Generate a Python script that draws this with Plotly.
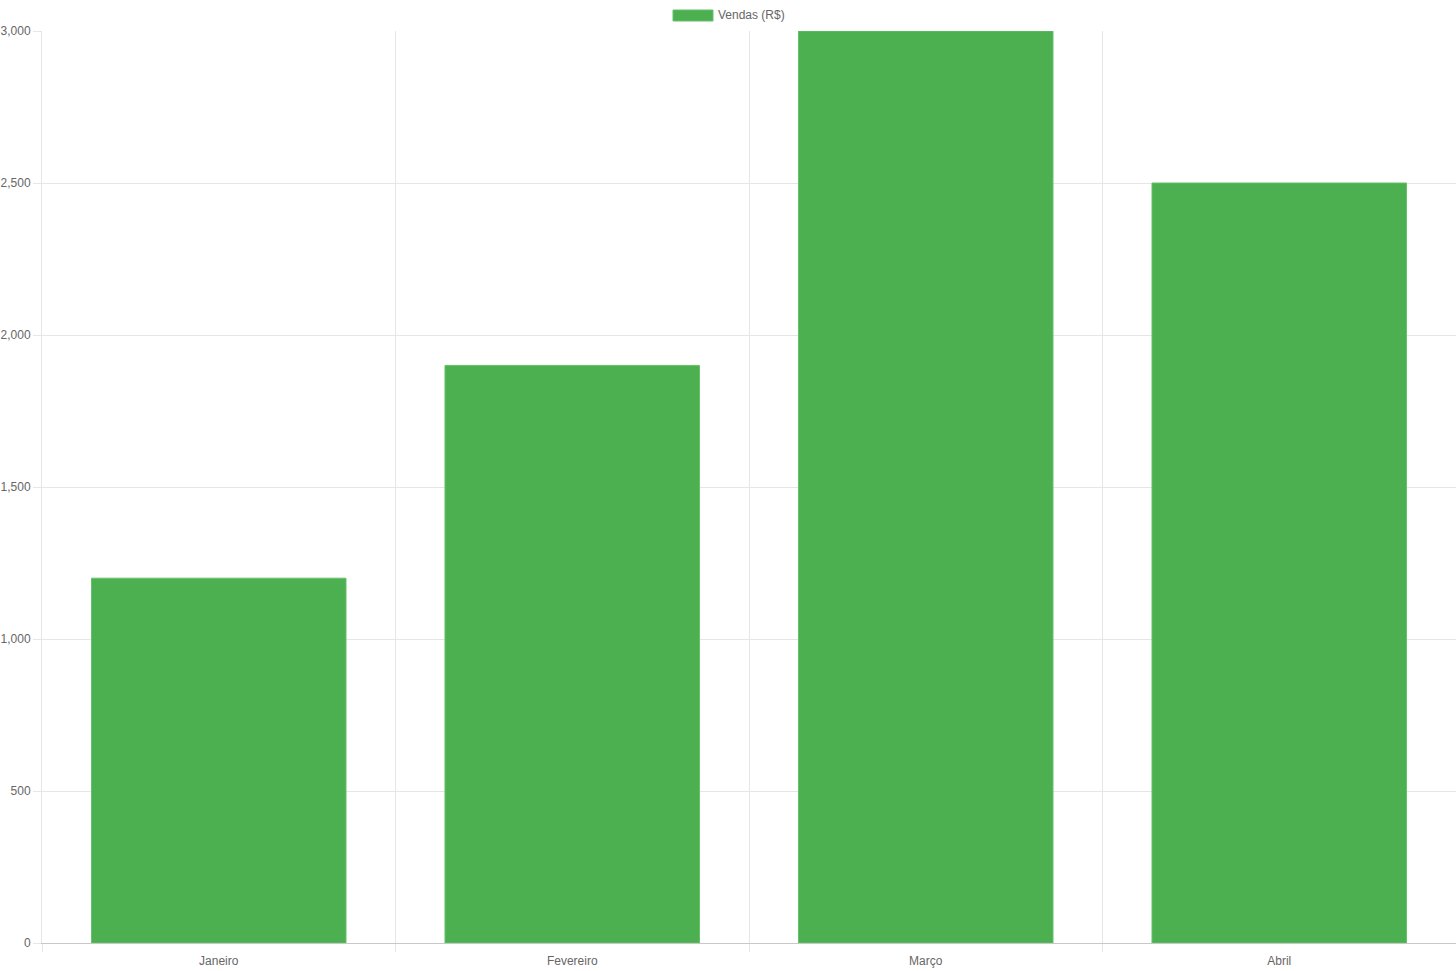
import plotly.graph_objects as go

categories = ["Janeiro", "Fevereiro", "Março", "Abril"]
vendas = [1200, 1900, 3000, 2500]
series_name = "Vendas (R$)"
y_ticks = [0, 500, 1000, 1500, 2000, 2500, 3000]
y_tick_labels = ["0", "500", "1,000", "1,500", "2,000", "2,500", "3,000"]

GREEN = "#4caf50"
GRID = "#e6e6e6"
TEXT = "#666666"
FONT = "Liberation Sans, Arial, sans-serif"

fig = go.Figure()
fig.add_trace(go.Bar(
    x=categories, y=vendas, name=series_name,
    marker=dict(color=GREEN, line=dict(color="#66c16a", width=1)),
    showlegend=False,
))

fig.update_layout(
    width=1456, height=971,
    margin=dict(l=42, r=0, t=31, b=28),
    paper_bgcolor="white", plot_bgcolor="white",
    bargap=0.28,
    font=dict(family=FONT, size=12, color=TEXT),
    xaxis=dict(
        type="category", tickson="boundaries",
        showgrid=True, gridcolor=GRID, gridwidth=1,
        ticks="outside", ticklen=8, tickcolor=GRID,
        ticklabelstandoff=7,
        showline=True, linecolor="#c8c8c8", linewidth=1,
        tickfont=dict(family=FONT, size=12, color=TEXT),
        zeroline=False,
    ),
    yaxis=dict(
        range=[0, 3000], tickvals=y_ticks, ticktext=y_tick_labels,
        showgrid=True, gridcolor=GRID, gridwidth=1,
        ticks="outside", ticklen=8, tickcolor=GRID,
        showline=True, linecolor=GRID, linewidth=1,
        tickfont=dict(family=FONT, size=12, color=TEXT),
        zeroline=False,
    ),
    shapes=[dict(
        type="rect", xref="paper", yref="paper",
        x0=(673 - 42) / 1414, x1=(713 - 42) / 1414,
        y0=(943 - 21) / 912, y1=(943 - 10) / 912,
        fillcolor=GREEN, line=dict(color="#66c16a", width=1),
    )],
    annotations=[dict(
        text=series_name, xref="paper", yref="paper",
        x=(716 - 42) / 1414, y=(943 - 15) / 912,
        xanchor="left", yanchor="middle", showarrow=False,
        font=dict(family=FONT, size=12, color=TEXT),
    )],
)

fig.write_html(
    "out.html",
    config={"displayModeBar": False},
    post_script="document.body.style.margin='0';document.body.style.overflow='hidden';",
)
